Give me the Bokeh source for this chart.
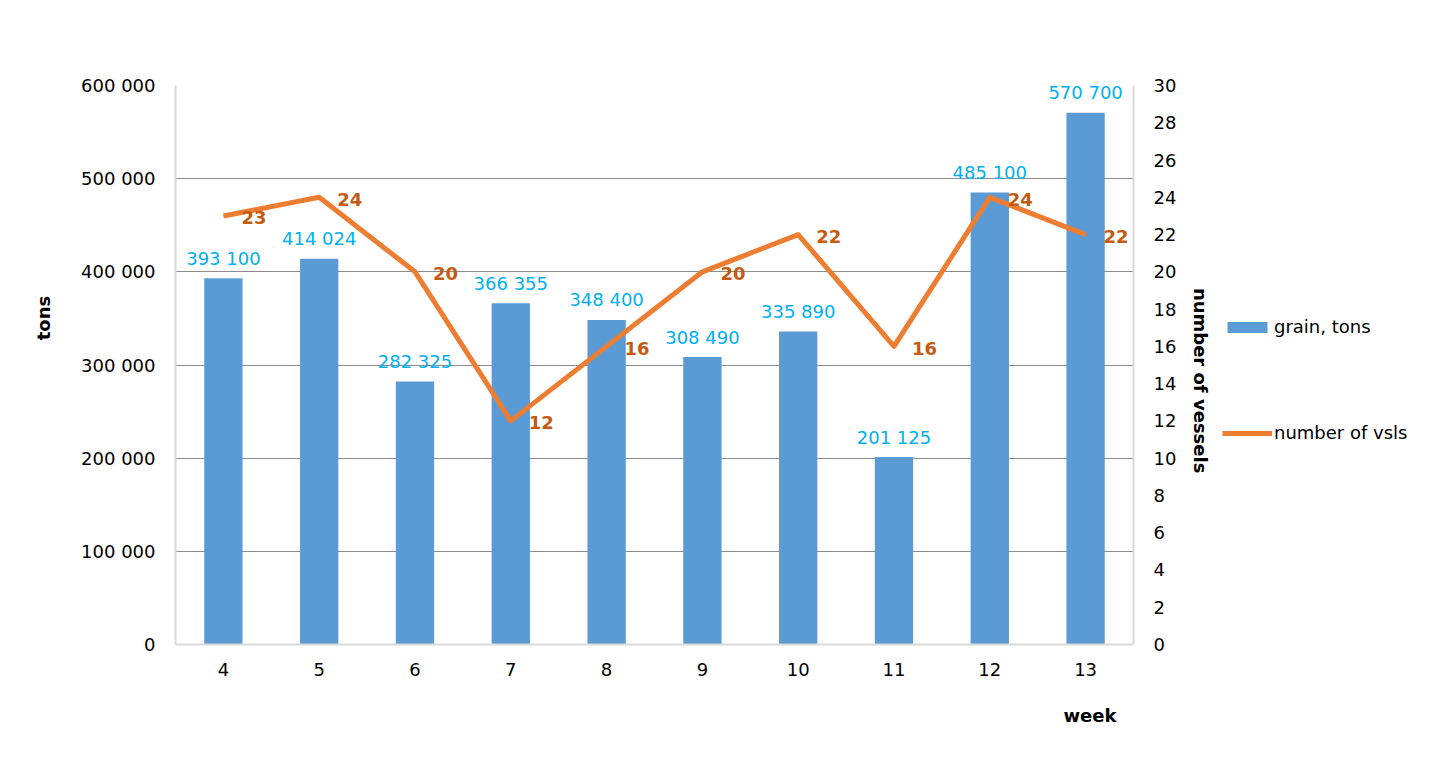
from bokeh.plotting import figure
from bokeh.layouts import row
from bokeh.models import (ColumnDataSource, LinearAxis, Range1d, FixedTicker,
                          CustomJSTickFormatter, Legend, LegendItem, Title)
from bokeh.core.properties import value
from bokeh.embed import file_html
from bokeh.resources import INLINE

weeks = [4, 5, 6, 7, 8, 9, 10, 11, 12, 13]
grain_tons = [393100, 414024, 282325, 366355, 348400, 308490, 335890, 201125, 485100, 570700]
vessels = [23, 24, 20, 12, 16, 20, 22, 16, 24, 22]
left_ticks = [0, 100000, 200000, 300000, 400000, 500000, 600000]
right_ticks = list(range(0, 31, 2))
series_names = ["grain, tons", "number of vsls"]

FONT = "DejaVu Sans"
FS = "18px"
BAR_COLOR = "#5b9bd5"
LINE_COLOR = "#ed7d31"
NB = "\u00a0"

src = ColumnDataSource(dict(
    week=weeks,
    grain=grain_tons,
    grain_lbl=[f"{v:,}".replace(",", " ") for v in grain_tons],
    vsl=vessels,
    vsl_lbl=[str(v) for v in vessels],
))

W_MAIN = 1215
H = 750
p = figure(width=W_MAIN, height=H, output_backend="svg", toolbar_location=None,
           x_range=Range1d(3.5, 13.5), y_range=Range1d(0, 600000),
           min_border_left=175, min_border_right=82, min_border_top=85, min_border_bottom=106)
p.outline_line_color = None
p.background_fill_color = "white"
p.border_fill_color = "white"

p.extra_y_ranges = {"vsl": Range1d(0, 30)}

p.xgrid.grid_line_color = None
p.ygrid.grid_line_color = "#8c8c8c"
p.ygrid.grid_line_width = 1

xa = p.xaxis[0]
xa.ticker = FixedTicker(ticks=weeks)
xa.axis_line_color = "#d9d9d9"
xa.axis_line_width = 2
xa.major_tick_line_color = None
xa.minor_tick_line_color = None
xa.major_tick_in = 0
xa.major_tick_out = 0
xa.major_label_standoff = 18
xa.major_label_text_font = FONT
xa.major_label_text_font_size = FS
xa.major_label_text_color = "black"

ya = p.yaxis[0]
ya.ticker = FixedTicker(ticks=left_ticks)
ya.formatter = CustomJSTickFormatter(code="return tick.toLocaleString('en-US').replace(/,/g, ' ');")
ya.axis_line_color = "#d9d9d9"
ya.axis_line_width = 2
ya.major_tick_line_color = None
ya.minor_tick_line_color = None
ya.major_tick_in = 0
ya.major_tick_out = 0
ya.major_label_standoff = 20
ya.major_label_text_font = FONT
ya.major_label_text_font_size = FS
ya.major_label_text_color = "black"
ya.axis_label = NB * 15 + "tons"
ya.axis_label_standoff = 24
ya.axis_label_text_font = FONT
ya.axis_label_text_font_size = FS
ya.axis_label_text_font_style = "bold"
ya.axis_label_text_color = "black"

ra = LinearAxis(y_range_name="vsl", ticker=FixedTicker(ticks=right_ticks))
ra.axis_line_color = "#d9d9d9"
ra.axis_line_width = 2
ra.major_tick_line_color = None
ra.minor_tick_line_color = None
ra.major_tick_in = 0
ra.major_tick_out = 0
ra.major_label_standoff = 20
ra.major_label_text_font = FONT
ra.major_label_text_font_size = FS
ra.major_label_text_color = "black"
ra.axis_label = NB * 5 + "number of vessels"
ra.axis_label_standoff = 11
ra.axis_label_text_font = FONT
ra.axis_label_text_font_size = FS
ra.axis_label_text_font_style = "bold"
ra.axis_label_text_color = "black"
p.add_layout(ra, "right")

p.vbar(x="week", top="grain", width=0.4, source=src,
       fill_color=BAR_COLOR, line_color=None)
p.text(x="week", y="grain", text="grain_lbl", source=src,
       text_align="center", text_baseline="alphabetic", y_offset=-20,
       text_font=value(FONT), text_font_size=FS, text_color="#00b0f0")

p.line(x="week", y="vsl", source=src, y_range_name="vsl",
       line_color=LINE_COLOR, line_width=5, line_join="round")
p.text(x="week", y="vsl", text="vsl_lbl", source=src, y_range_name="vsl",
       text_align="left", text_baseline="middle", x_offset=18, y_offset=2,
       text_font=value(FONT), text_font_size=FS, text_font_style="bold",
       text_color="#c55a11")

week_title = Title(text="week", align="right", offset=17, standoff=49,
                   text_font=FONT, text_font_size=FS, text_font_style="bold",
                   text_color="black")
p.add_layout(week_title, "below")

# legend panel (separate figure; its series renderers lie far outside its view range)
q = figure(width=1412 - W_MAIN, height=H, output_backend="svg", toolbar_location=None,
           x_range=Range1d(-1000, -999), y_range=Range1d(1e9, 1e9 + 1),
           min_border=0, x_axis_type=None, y_axis_type=None)
q.outline_line_color = None
q.grid.visible = False
q.border_fill_color = "white"
q.background_fill_color = "white"
lb = q.vbar(x="week", top="grain", width=0.4, source=src, fill_color=BAR_COLOR, line_color=None)
ll = q.line(x="week", y="vsl", source=src, line_color=LINE_COLOR, line_width=5)

legend = Legend(items=[LegendItem(label=series_names[0], renderers=[lb]),
                       LegendItem(label=series_names[1], renderers=[ll])],
                location=(7, 201), orientation="vertical",
                glyph_width=50, glyph_height=14, label_height=14,
                label_standoff=2, spacing=85, padding=0, margin=0,
                border_line_color=None, background_fill_alpha=0,
                label_text_font=FONT, label_text_font_size=FS,
                label_text_color="black")
q.add_layout(legend, "center")

layout = row(p, q, spacing=0)
open("out.html", "w").write(file_html(layout, INLINE))
